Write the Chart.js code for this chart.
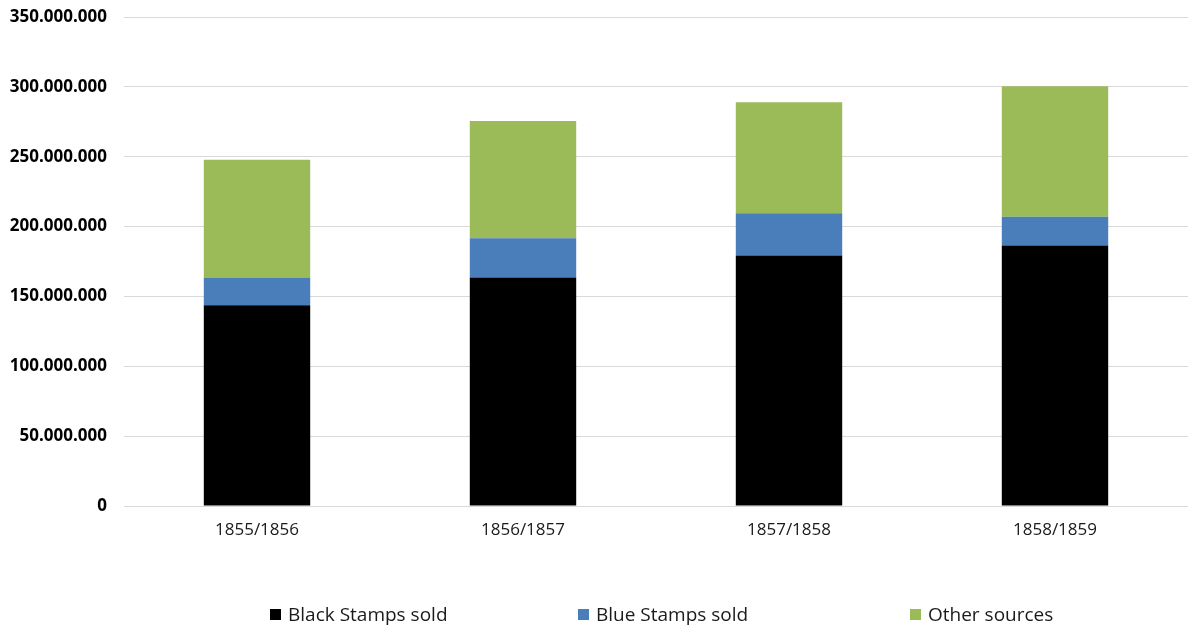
<!DOCTYPE html>
<html>
<head>
<meta charset="utf-8">
<script src="https://cdn.jsdelivr.net/npm/chart.js@4"></script>
<style>
    html, body { margin: 0; padding: 0; background: #fff; }
    #wrap { position: relative; width: 1188px; height: 627px; }
    #legend {
        position: absolute; left: 270px; top: 601px;
        display: flex;
        font-family: "Open Sans", sans-serif; font-size: 19px; color: #1a1a1a;
    }
    #legend span.item { display: flex; align-items: center; white-space: nowrap; }
    #legend i { display: inline-block; width: 11px; height: 11px; margin-right: 7px; }
</style>
</head>
<body>
<div id="wrap">
    <canvas id="stamps" width="1188" height="627"></canvas>
    <div id="legend"></div>
</div>
<script>
// Categories and series
const seasons = ['1855/1856', '1856/1857', '1857/1858', '1858/1859'];
const blackStamps = [143600000, 163600000, 179300000, 186400000];
const blueStamps = [20000000, 28100000, 30200000, 20600000];
const otherSources = [84300000, 83800000, 79500000, 93500000];

const seriesNames = ['Black Stamps sold', 'Blue Stamps sold', 'Other sources'];
const seriesColors = ['#000000', '#4a7ebb', '#9bbb59'];
const legendSlots = [308, 332, 160]; // legend item widths in px

// 350000000 -> 350.000.000
const dotted = v => String(Math.round(v)).replace(/\B(?=(\d{3})+(?!\d))/g, '.');

const ctx = document.getElementById('stamps').getContext('2d');

const chart = new Chart(ctx, {
    type: 'bar',
    data: {
        labels: seasons,
        datasets: [blackStamps, blueStamps, otherSources].map((d, i) => ({
            label: seriesNames[i],
            data: d,
            backgroundColor: seriesColors[i],
            borderWidth: 0,
            barPercentage: 0.4,
            categoryPercentage: 1,
        })),
    },
    options: {
        responsive: false,
        animation: false,
        layout: { padding: { top: 17, bottom: 61, right: 0, left: 0 } },
        plugins: {
            legend: { display: false },
            tooltip: { enabled: false },
        },
        scales: {
            x: {
                stacked: true,
                grid: { display: false, drawTicks: false },
                border: { color: '#d9d9d9', width: 1 },
                ticks: { padding: 14, color: '#1a1a1a', font: { family: 'Open Sans', size: 17 } },
                afterFit: s => { s.height = 60; },
            },
            y: {
                stacked: true,
                min: 0,
                max: 350000000,
                grid: { color: '#d9d9d9', drawTicks: false },
                border: { display: false },
                ticks: {
                    stepSize: 50000000,
                    padding: 17,
                    color: '#000',
                    font: { family: 'Open Sans', size: 17, weight: 'bold' },
                    callback: v => dotted(v),
                },
                afterFit: s => {
                    s.width = 124;
                    // keep the tick padding from pushing the plot down
                    s.paddingTop = 0;
                    s.paddingBottom = 0;
                },
            },
        },
    },
});

// HTML legend built from the series
const legend = document.getElementById('legend');
seriesNames.forEach((name, i) => {
    const item = document.createElement('span');
    item.className = 'item';
    item.style.width = legendSlots[i] + 'px';
    item.innerHTML = `<i style="background:${seriesColors[i]}"></i>${name}`;
    legend.appendChild(item);
});
</script>
</body>
</html>
